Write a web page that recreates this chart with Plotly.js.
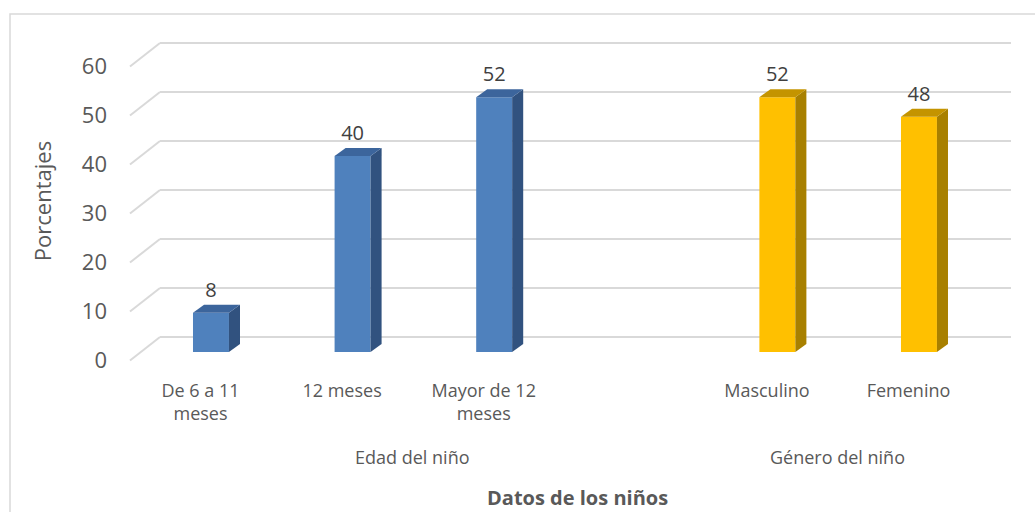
<!DOCTYPE html>
<html>
<head>
<meta charset="utf-8">
<script src="https://cdn.plot.ly/plotly-3.0.1.min.js"></script>
<style>
  html, body { margin: 0; padding: 0; background: #fff; }
  #chart { width: 1035px; height: 512px; }
</style>
</head>
<body>
<div id="chart"></div>
<script>
// ---------- data ----------
const categoryLabels = ["De 6 a 11<br>meses", "12 meses", "Mayor de 12<br>meses", "", "Masculino", "Femenino"];
const percentValues = [8, 40, 52, null, 52, 48];
const groupNames = ["Edad del niño", "Género del niño"];
const groupOfCategory = [0, 0, 0, 0, 1, 1];
const yTickValues = [0, 10, 20, 30, 40, 50, 60];

// ---------- styles ----------
const frontColors = ["#4F81BD", "#FFC000"];
const sideColors  = ["#31527F", "#A88000"];
const topColors   = ["#3C659C", "#C49400"];
const textColor = "#595959";
const gridColor = "#d9d9d9";
const FONT = "Open Sans, Noto Sans, sans-serif";

// geometry (plot area in px: x 160..1011, y 30..372)
const W = 1035, H = 512;
const M = { l: 160, r: 24, t: 30, b: 140 };
const plotW = W - M.l - M.r, plotH = H - M.t - M.b;
const px2paperX = px => (px - M.l) / plotW;
const py2paperY = py => (H - M.b - py) / plotH;

const BAR_RANGE = [-4.08, 65.71];
const FRONT_SHIFT = 1.73;   // front floor plane relative to bar face
const BACK_SHIFT = -3.06;   // back wall relative to bar face
const X_RANGE = [-0.36, 5.65];
const LABEL_SHIFT = 0.074;
const barWidth = 0.254;
const depthX = 0.078;       // 3D depth of bar, in category units
const depthY = 1.64;        // 3D depth of bar, in value units
const labelLift = 0.6;

const xIdx = categoryLabels.map((_, i) => i);

const traces = [];
// front faces
traces.push({
  type: "bar",
  x: xIdx,
  y: percentValues,
  width: barWidth,
  marker: { color: groupOfCategory.map(g => frontColors[g]), line: { width: 0 } },
  hoverinfo: "skip",
  showlegend: false
});
// side & top faces
xIdx.forEach(i => {
  const v = percentValues[i];
  if (v === null) return;
  const g = groupOfCategory[i];
  const xl = i - barWidth / 2, xr = i + barWidth / 2;
  traces.push({
    type: "scatter", mode: "lines", fill: "toself",
    x: [xr, xr + depthX, xr + depthX, xr, xr],
    y: [0, depthY, v + depthY, v, 0],
    fillcolor: sideColors[g], line: { width: 0, color: sideColors[g] },
    hoverinfo: "skip", showlegend: false
  });
  traces.push({
    type: "scatter", mode: "lines", fill: "toself",
    x: [xl, xr, xr + depthX, xl + depthX, xl],
    y: [v, v, v + depthY, v + depthY, v],
    fillcolor: topColors[g], line: { width: 0, color: topColors[g] },
    hoverinfo: "skip", showlegend: false
  });
});
// data labels
const labelIdx = xIdx.filter(i => percentValues[i] !== null);
traces.push({
  type: "scatter", mode: "text",
  x: labelIdx,
  y: labelIdx.map(i => percentValues[i] + depthY + labelLift),
  text: labelIdx.map(i => String(percentValues[i])),
  textposition: "top center",
  textfont: { family: FONT, size: 20, color: "#404040" },
  hoverinfo: "skip", showlegend: false
});

// shapes: diagonal floor-edge grid lines + outer border
const shapes = yTickValues.map(v => ({
  type: "line", xref: "paper", yref: "y", layer: "below",
  x0: px2paperX(130), x1: 0,
  y0: v - FRONT_SHIFT, y1: v - BACK_SHIFT,
  line: { color: gridColor, width: 2 }
}));
shapes.push({
  type: "rect", xref: "paper", yref: "paper", layer: "below",
  x0: px2paperX(10), x1: px2paperX(1045),
  y0: py2paperY(14), y1: py2paperY(530),
  line: { color: gridColor, width: 1.5 }
});

// annotations: group labels + x title
const annotations = groupNames.map((name, g) => {
  const members = xIdx.filter(i => groupOfCategory[i] === g);
  const center = members.reduce((a, b) => a + b, 0) / members.length;
  return {
    xref: "x2", yref: "paper", x: center, y: py2paperY(457),
    text: name, showarrow: false, xanchor: "center", yanchor: "middle",
    font: { family: FONT, size: 18, color: textColor }
  };
});
annotations.push({
  xref: "paper", yref: "paper", x: px2paperX(577), y: py2paperY(497),
  text: "<b>Datos de los niños</b>", showarrow: false,
  xanchor: "center", yanchor: "middle",
  font: { family: FONT, size: 20, color: textColor }
});

const layout = {
  width: W, height: H,
  margin: M,
  paper_bgcolor: "#fff", plot_bgcolor: "rgba(0,0,0,0)",
  showlegend: false,
  xaxis: {
    range: X_RANGE, showgrid: false, zeroline: false, showline: false,
    showticklabels: false, ticks: "", fixedrange: true
  },
  xaxis2: {
    overlaying: "x", anchor: "y", side: "bottom",
    range: X_RANGE.map(r => r + LABEL_SHIFT),
    tickmode: "array", tickvals: xIdx, ticktext: categoryLabels,
    showgrid: false, zeroline: false, showline: false, ticks: "",
    ticklabelstandoff: 6,
    tickfont: { family: FONT, size: 18, color: textColor }
  },
  yaxis: {
    range: BAR_RANGE, showgrid: false, zeroline: false, showline: false,
    showticklabels: false, ticks: ""
  },
  yaxis2: {
    overlaying: "y", anchor: "x", side: "left",
    range: BAR_RANGE.map(r => r + FRONT_SHIFT),
    tickmode: "array", tickvals: yTickValues,
    showgrid: false, zeroline: false, showline: false, ticks: "",
    ticklabelstandoff: 52,
    tickfont: { family: FONT, size: 22, color: textColor },
    title: { text: "Porcentajes", standoff: 24, font: { family: FONT, size: 22, color: textColor } }
  },
  yaxis3: {
    overlaying: "y", anchor: "x", side: "left",
    range: BAR_RANGE.map(r => r + BACK_SHIFT),
    tickmode: "array", tickvals: yTickValues,
    showgrid: true, gridcolor: gridColor, gridwidth: 2,
    zeroline: false, showline: false, showticklabels: false, ticks: ""
  },
  shapes: shapes,
  annotations: annotations
};

// empty helper traces so overlay axes get subplots
traces.unshift({ type: "scatter", x: [], y: [], xaxis: "x2", yaxis: "y", hoverinfo: "skip", showlegend: false });
traces.unshift({ type: "scatter", x: [], y: [], xaxis: "x", yaxis: "y2", hoverinfo: "skip", showlegend: false });
traces.unshift({ type: "scatter", x: [], y: [], xaxis: "x", yaxis: "y3", hoverinfo: "skip", showlegend: false });

Plotly.newPlot("chart", traces, layout, { staticPlot: true, displayModeBar: false });
</script>
</body>
</html>
